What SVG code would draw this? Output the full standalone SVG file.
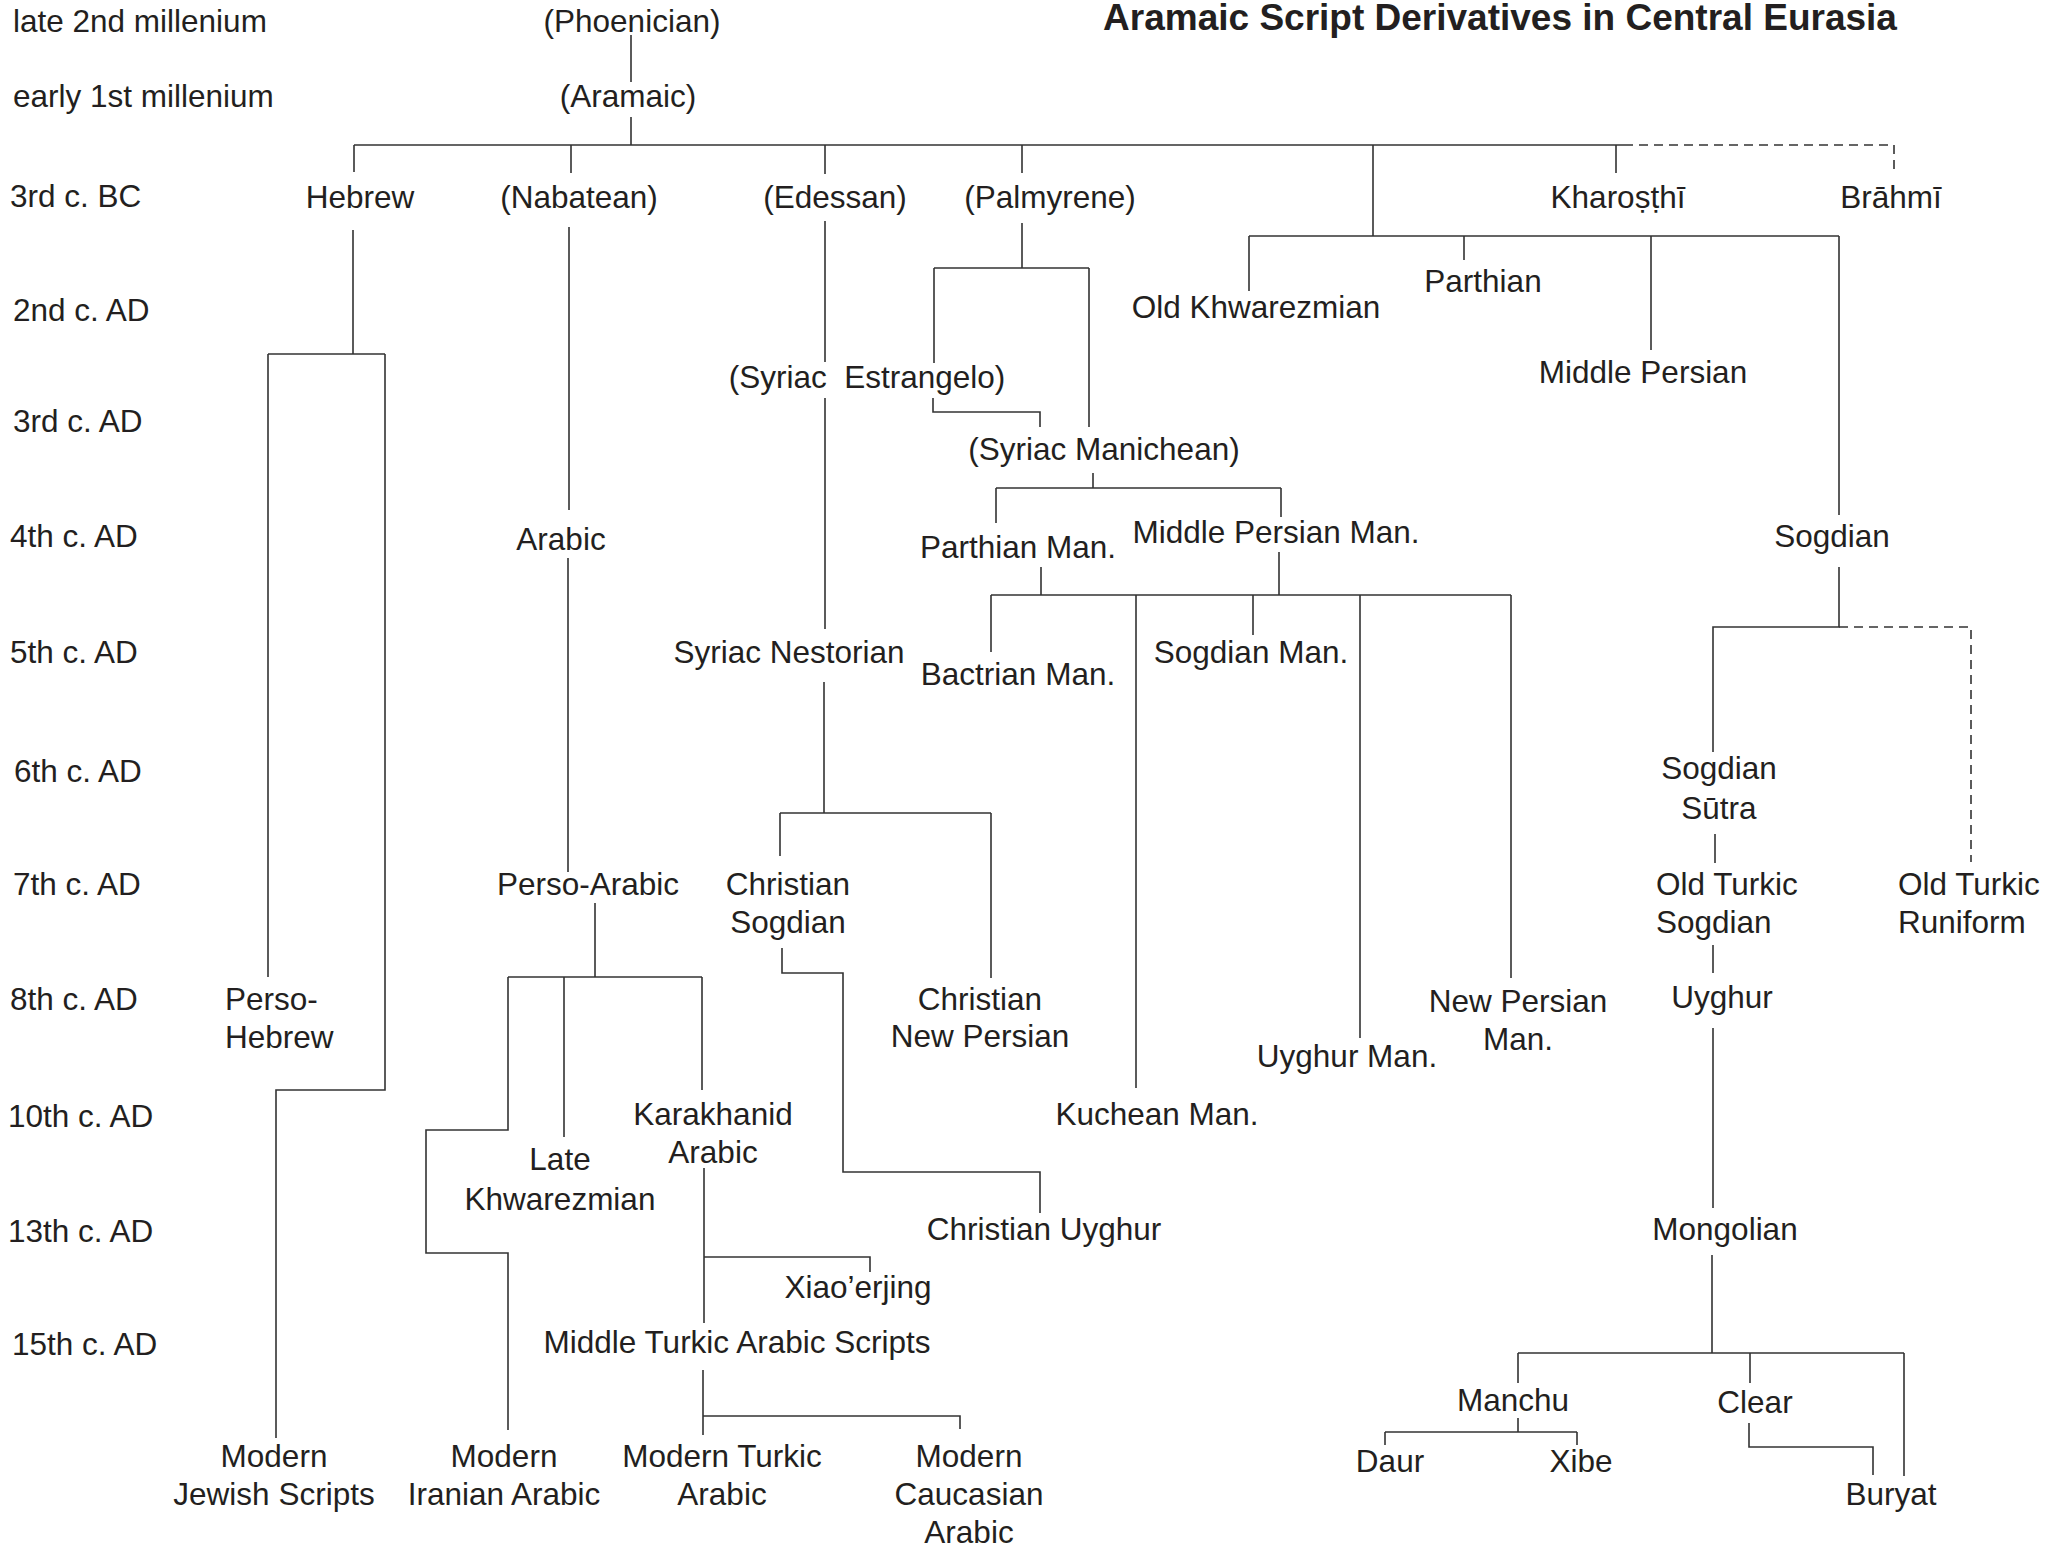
<svg xmlns="http://www.w3.org/2000/svg" width="2049" height="1551" viewBox="0 0 2049 1551">
<style>
text{font-family:"Liberation Sans",Arial,Helvetica,sans-serif;font-size:31.5px;fill:#231f20}
.n text{text-anchor:middle}
text.r,.n text.r{text-anchor:start}
.title{font-weight:bold;font-size:37px;text-anchor:middle}
.c path{fill:none;stroke:#333;stroke-width:1.6}
.c path.d{stroke-dasharray:9 6}
</style>
<rect width="2049" height="1551" fill="#fff"/>
<text class="title" x="1500" y="30">Aramaic Script Derivatives in Central Eurasia</text>
<g id="rows">
<text class="r" x="13" y="32">late 2nd millenium</text>
<text class="r" x="13" y="107">early 1st millenium</text>
<text class="r" x="10" y="207">3rd c. BC</text>
<text class="r" x="13" y="321">2nd c. AD</text>
<text class="r" x="13" y="432">3rd c. AD</text>
<text class="r" x="10" y="547">4th c. AD</text>
<text class="r" x="10" y="663">5th c. AD</text>
<text class="r" x="14" y="782">6th c. AD</text>
<text class="r" x="13" y="895">7th c. AD</text>
<text class="r" x="10" y="1010">8th c. AD</text>
<text class="r" x="8" y="1127">10th c. AD</text>
<text class="r" x="8" y="1242">13th c. AD</text>
<text class="r" x="12" y="1355">15th c. AD</text>
</g>
<g class="c" id="connectors">
<path d="M631 35V82M631 117V145M354 145H1624M354 145V172M571 145V173M825 145V174M1022 145V173M1373 145V236M1616 145V173"/>
<path class="d" d="M1624 145H1894V175"/>
<path d="M1249 236H1839M1249 236V291M1464 236V260M1651 236V350M1839 236V515"/>
<path d="M353 230V354M268 354H385M268 354V977M385 354V1090H276V1438"/>
<path d="M569 227V510M568 558V872"/>
<path d="M825 221V362M825 398V629M824 682V813"/>
<path d="M1022 223V268M934 268H1089M934 268V363M1089 268V427M933 398V412H1040V427"/>
<path d="M1093 473V488M996 488H1281M996 488V523M1281 488V517"/>
<path d="M1041 567V595M1279 552V595M991 595H1511M991 595V652M1136 595V1088M1253 595V635M1360 595V1038M1511 595V978"/>
<path d="M1839 567V627H1713V752"/>
<path class="d" d="M1839 627H1971V862"/>
<path d="M1715 834V863M1713 945V973M1713 1028V1208M1712 1255V1353M1518 1353H1904M1518 1353V1383M1750 1353V1383M1904 1353V1476"/>
<path d="M1518 1418V1432M1385 1432H1577M1385 1432V1445M1577 1432V1445M1749 1423V1447H1873V1475"/>
<path d="M780 813H991M780 813V856M991 813V978M782 948V973H843V1172H1040V1213"/>
<path d="M595 903V977M508 977H702M508 977V1130H426V1253H508V1430M564 977V1137M702 977V1090"/>
<path d="M704 1168V1323M704 1257H870V1272M703 1370V1435M703 1416H960V1429"/>
</g>
<g class="n">
<g id="phoenician"><text x="632" y="32">(Phoenician)</text></g>
<g id="aramaic"><text x="628" y="107">(Aramaic)</text></g>
<g id="hebrew"><text x="360" y="208">Hebrew</text></g>
<g id="nabatean"><text x="579" y="208">(Nabatean)</text></g>
<g id="edessan"><text x="835" y="208">(Edessan)</text></g>
<g id="palmyrene"><text x="1050" y="208">(Palmyrene)</text></g>
<g id="kharosthi"><text x="1618" y="208">Kharoṣṭhī</text></g>
<g id="brahmi"><text x="1891" y="208">Brāhmī</text></g>
<g id="old-khwarezmian"><text x="1256" y="318">Old Khwarezmian</text></g>
<g id="parthian"><text x="1483" y="292">Parthian</text></g>
<g id="middle-persian"><text x="1643" y="383">Middle Persian</text></g>
<g id="syriac-estrangelo"><text x="867" y="388" xml:space="preserve">(Syriac  Estrangelo)</text></g>
<g id="syriac-manichean"><text x="1104" y="460">(Syriac Manichean)</text></g>
<g id="arabic"><text x="561" y="550">Arabic</text></g>
<g id="parthian-man"><text x="1018" y="558">Parthian Man.</text></g>
<g id="middle-persian-man"><text x="1276" y="543">Middle Persian Man.</text></g>
<g id="sogdian"><text x="1832" y="547">Sogdian</text></g>
<g id="syriac-nestorian"><text x="789" y="663">Syriac Nestorian</text></g>
<g id="bactrian-man"><text x="1018" y="685">Bactrian Man.</text></g>
<g id="sogdian-man"><text x="1251" y="663">Sogdian Man.</text></g>
<g id="sogdian-sutra"><text x="1719" y="779">Sogdian</text><text x="1719" y="819">Sūtra</text></g>
<g id="perso-arabic"><text x="588" y="895">Perso-Arabic</text></g>
<g id="christian-sogdian"><text x="788" y="895">Christian</text><text x="788" y="933">Sogdian</text></g>
<g id="old-turkic-sogdian"><text class="r" x="1656" y="895">Old Turkic</text><text class="r" x="1656" y="933">Sogdian</text></g>
<g id="old-turkic-runiform"><text class="r" x="1898" y="895">Old Turkic</text><text class="r" x="1898" y="933">Runiform</text></g>
<g id="perso-hebrew"><text class="r" x="225" y="1010">Perso-</text><text class="r" x="225" y="1048">Hebrew</text></g>
<g id="christian-new-persian"><text x="980" y="1010">Christian</text><text x="980" y="1047">New Persian</text></g>
<g id="new-persian-man"><text x="1518" y="1012">New Persian</text><text x="1518" y="1050">Man.</text></g>
<g id="uyghur"><text x="1722" y="1008">Uyghur</text></g>
<g id="uyghur-man"><text x="1347" y="1067">Uyghur Man.</text></g>
<g id="kuchean-man"><text x="1157" y="1125">Kuchean Man.</text></g>
<g id="karakhanid-arabic"><text x="713" y="1125">Karakhanid</text><text x="713" y="1163">Arabic</text></g>
<g id="late-khwarezmian"><text x="560" y="1170">Late</text><text x="560" y="1210">Khwarezmian</text></g>
<g id="christian-uyghur"><text x="1044" y="1240">Christian Uyghur</text></g>
<g id="mongolian"><text x="1725" y="1240">Mongolian</text></g>
<g id="xiaoerjing"><text x="858" y="1298">Xiao’erjing</text></g>
<g id="middle-turkic"><text x="737" y="1353">Middle Turkic Arabic Scripts</text></g>
<g id="manchu"><text x="1513" y="1411">Manchu</text></g>
<g id="clear"><text x="1755" y="1413">Clear</text></g>
<g id="daur"><text x="1390" y="1472">Daur</text></g>
<g id="xibe"><text x="1581" y="1472">Xibe</text></g>
<g id="buryat"><text x="1891" y="1505">Buryat</text></g>
<g id="modern-jewish"><text x="274" y="1467">Modern</text><text x="274" y="1505">Jewish Scripts</text></g>
<g id="modern-iranian"><text x="504" y="1467">Modern</text><text x="504" y="1505">Iranian Arabic</text></g>
<g id="modern-turkic"><text x="722" y="1467">Modern Turkic</text><text x="722" y="1505">Arabic</text></g>
<g id="modern-caucasian"><text x="969" y="1467">Modern</text><text x="969" y="1505">Caucasian</text><text x="969" y="1543">Arabic</text></g>
</g>
</svg>
